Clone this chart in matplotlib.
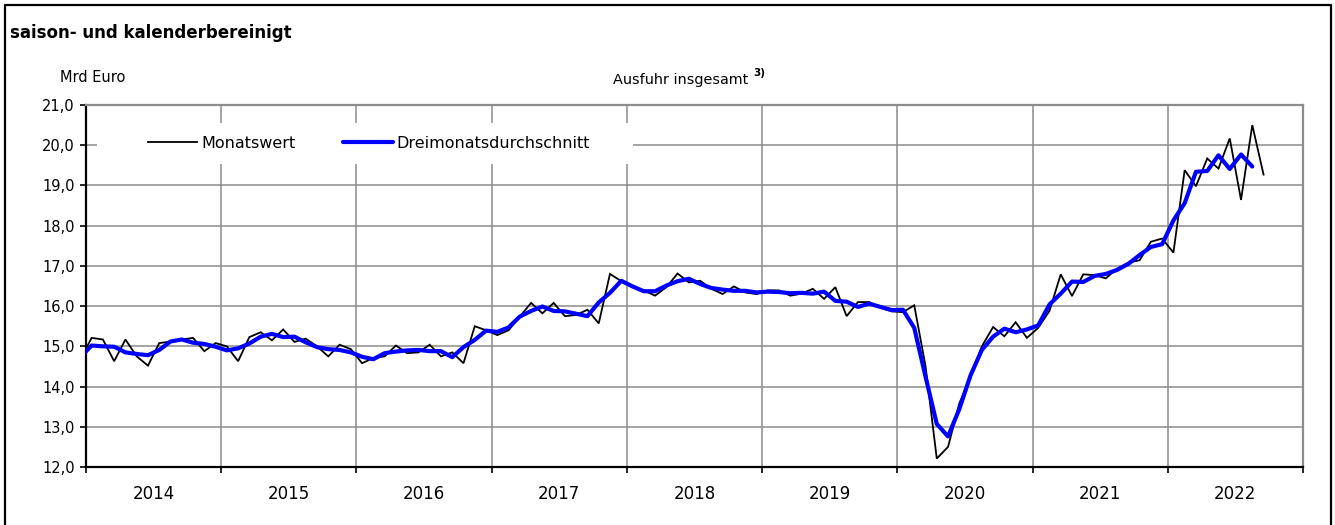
import matplotlib
matplotlib.use("Agg")
import matplotlib.pyplot as plt
from matplotlib.lines import Line2D
from matplotlib.patches import Rectangle
from matplotlib.ticker import FixedLocator, FuncFormatter

# ── data (Mrd Euro, saison- und kalenderbereinigt) ───────────────────────────
# monthly values, Dec 2013 .. Sep 2022
monatswert = [
    14.68,
    15.21, 15.17, 14.63, 15.17, 14.75, 14.52, 15.08, 15.12, 15.17, 15.21, 14.88, 15.08,   # 2014
    15.00, 14.63, 15.23, 15.35, 15.15, 15.42, 15.11, 15.19, 15.00, 14.75, 15.04, 14.93,   # 2015
    14.58, 14.71, 14.75, 15.02, 14.83, 14.85, 15.04, 14.75, 14.85, 14.58, 15.50, 15.40,   # 2016
    15.28, 15.40, 15.74, 16.08, 15.82, 16.08, 15.75, 15.78, 15.91, 15.57, 16.80, 16.62,   # 2017
    16.47, 16.39, 16.26, 16.47, 16.81, 16.59, 16.63, 16.43, 16.30, 16.49, 16.34, 16.30,   # 2018
    16.39, 16.39, 16.26, 16.31, 16.43, 16.18, 16.47, 15.75, 16.10, 16.10, 15.97, 15.87,   # 2019
    15.85, 16.02, 14.51, 12.21, 12.50, 13.58, 14.25, 15.00, 15.48, 15.25, 15.60, 15.21,   # 2020
    15.46, 15.88, 16.79, 16.25, 16.79, 16.77, 16.69, 16.93, 17.08, 17.14, 17.60, 17.68,   # 2021
    17.33, 19.38, 18.98, 19.67, 19.42, 20.17, 18.64, 20.50, 19.27,                        # 2022
]
# three-month average, Dec 2013 .. Aug 2022
dreimonat = [
    14.73,
    15.02, 15.00, 14.99, 14.85, 14.81, 14.78, 14.91, 15.12, 15.17, 15.09, 15.06, 14.99,
    14.90, 14.95, 15.07, 15.24, 15.31, 15.23, 15.24, 15.10, 14.98, 14.93, 14.91, 14.85,
    14.74, 14.68, 14.83, 14.87, 14.90, 14.91, 14.88, 14.88, 14.73, 14.98, 15.16, 15.39,
    15.36, 15.47, 15.74, 15.88, 15.99, 15.88, 15.87, 15.81, 15.75, 16.09, 16.33, 16.63,
    16.49, 16.37, 16.37, 16.51, 16.62, 16.68, 16.55, 16.45, 16.41, 16.38, 16.38, 16.34,
    16.36, 16.35, 16.32, 16.33, 16.31, 16.36, 16.13, 16.11, 15.98, 16.06, 15.98, 15.90,
    15.91, 15.46, 14.25, 13.07, 12.76, 13.44, 14.28, 14.91, 15.24, 15.44, 15.35, 15.42,
    15.52, 16.04, 16.31, 16.61, 16.60, 16.75, 16.80, 16.90, 17.05, 17.27, 17.47, 17.54,
    18.13, 18.56, 19.34, 19.36, 19.75, 19.41, 19.77, 19.47,
]
years = [2014, 2015, 2016, 2017, 2018, 2019, 2020, 2021, 2022]
y_ticks = [12, 13, 14, 15, 16, 17, 18, 19, 20, 21]

# x position = month index counted from Jan 2014, placed in the middle of the month
x_mon = [i - 0.5 for i in range(len(monatswert))]
x_avg = [i - 0.5 for i in range(len(dreimonat))]

W, H = 1335, 525
GRID = "#8c8c8c"
FONT = "DejaVu Sans"

plt.rcParams["font.family"] = FONT

fig = plt.figure(figsize=(W / 100, H / 100), dpi=100)
ax = fig.add_axes([86 / W, 1 - 467 / H, (1303 - 86) / W, (467 - 105) / H])

ax.plot(x_mon, monatswert, color="black", lw=1.3, zorder=3, label="Monatswert",
        solid_joinstyle="miter")
ax.plot(x_avg, dreimonat, color="#0000ff", lw=3.0, zorder=4,
        label="Dreimonatsdurchschnitt", solid_capstyle="round")

ax.set_xlim(0, 12 * len(years))
ax.set_ylim(12, 21)

# year boundaries (ticks + grid) and year labels in the middle of each year
ax.xaxis.set_major_locator(FixedLocator([12 * k for k in range(len(years) + 1)]))
ax.xaxis.set_minor_locator(FixedLocator([12 * k + 6 for k in range(len(years))]))
ax.xaxis.set_major_formatter(FuncFormatter(lambda v, p: ""))
ax.xaxis.set_minor_formatter(FuncFormatter(lambda v, p: str(years[int(v // 12)])))
ax.tick_params(axis="x", which="major", direction="out", length=4, width=1.2,
               color="black")
ax.tick_params(axis="x", which="minor", length=0, pad=13, labelsize=12)

ax.yaxis.set_major_locator(FixedLocator(y_ticks))
ax.yaxis.set_major_formatter(FuncFormatter(lambda v, p: f"{v:.1f}".replace(".", ",")))
ax.tick_params(axis="y", direction="out", length=4, width=1.2, pad=4, labelsize=10.5)

ax.grid(True, which="major", color=GRID, lw=1.1)
ax.set_axisbelow(True)

for side in ("left", "bottom"):
    ax.spines[side].set_color("black")
    ax.spines[side].set_linewidth(1.6)
for side in ("top", "right"):
    ax.spines[side].set_color(GRID)
    ax.spines[side].set_linewidth(1.6)

# white legend box that hides the grid behind it
ax.add_patch(Rectangle((11 / 1217, 303 / 362), 536 / 1217, 41 / 362,
                       transform=ax.transAxes, facecolor="white",
                       edgecolor="none", zorder=1.5))
ax.legend(loc="center", bbox_to_anchor=(283 / 1217, 324 / 362), ncol=2,
          frameon=False, fontsize=11.5, handlelength=3.1, handletextpad=0.25,
          columnspacing=3.0)

# header texts
fig.text(10 / W, 1 - 38 / H, "saison- und kalenderbereinigt", fontsize=12,
         fontweight="bold", va="baseline", ha="left")
fig.text(60 / W, 1 - 82 / H, "Mrd Euro", fontsize=10.5, va="baseline", ha="left")
fig.text(748 / W, 1 - 84 / H, "Ausfuhr insgesamt", fontsize=10.4,
         va="baseline", ha="right")
fig.text(753 / W, 1 - 76 / H, "3)", fontsize=7.5, fontweight="bold",
         va="baseline", ha="left")

# outer frame (open at the bottom edge of the picture)
fig.add_artist(Line2D([5 / W, 5 / W, 1331 / W, 1331 / W],
                      [0, 1 - 5 / H, 1 - 5 / H, 0],
                      transform=fig.transFigure, color="black", lw=1.6))

fig.savefig("out.png", dpi=100)
